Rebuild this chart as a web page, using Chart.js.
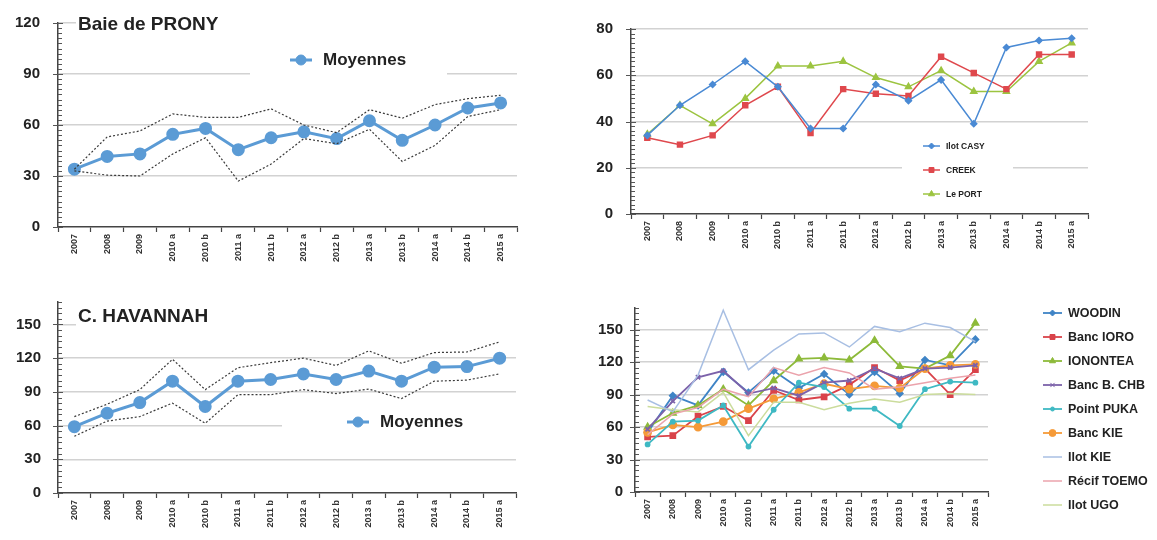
<!DOCTYPE html>
<html>
<head>
<meta charset="utf-8">
<script src="https://cdn.jsdelivr.net/npm/chart.js@4"></script>
<style>
  body { margin: 0; background: #fff; width: 1157px; height: 540px; position: relative; overflow: hidden; }
  canvas { position: absolute; }
</style>
</head>
<body>
<canvas id="prony" width="560" height="270" style="left:0;top:0"></canvas>
<canvas id="sites" width="577" height="270" style="left:580px;top:0"></canvas>
<canvas id="havannah" width="560" height="260" style="left:0;top:280px"></canvas>
<canvas id="stations" width="577" height="260" style="left:580px;top:280px"></canvas>
<script>
// Categories shared by all four panels
const years = ['2007', '2008', '2009', '2010 a', '2010 b', '2011 a', '2011 b', '2012 a', '2012 b', '2013 a', '2013 b', '2014 a', '2014 b', '2015 a'];

// Baie de PRONY
const pronyMean = [34, 41.5, 43, 54.5, 58, 45.5, 52.5, 56, 52, 62.5, 51, 60, 70, 73];
const pronyHigh = [34, 53, 56.5, 66.5, 64.5, 64.5, 69.5, 60, 55.5, 69, 64, 72, 75.5, 77.5];
const pronyLow = [33, 30.5, 30, 43, 52.5, 27, 37, 52, 49, 57.5, 38.5, 48, 65, 69];

// Prony stations
const casy = [34, 47, 56, 66, 55, 37, 37, 56, 49, 58, 39, 72, 75, 76];
const creek = [33, 30, 34, 47, 55, 35, 54, 52, 51, 68, 61, 54, 69, 69];
const port = [34.5, 47, 39, 50, 64, 64, 66, 59, 55, 62, 53, 53, 66, 74];

// C. HAVANNAH
const havMean = [59, 71, 80.5, 99.5, 77, 99.5, 101, 106, 101, 108.5, 99.5, 112, 112.5, 120];
const havHigh = [68, 79, 92, 119, 92, 111.5, 116, 120, 113.5, 126.5, 115.5, 125, 125.5, 134.5];
const havLow = [50.5, 64, 68, 80, 62, 87.5, 87.5, 92, 88.5, 92.5, 84, 99.5, 100.5, 106];

// Havannah stations
const woodin = [55, 89, 80, 111, 92, 112, 96, 109, 90, 111, 91, 122, 117, 141];
const ioro = [51, 52, 70, 79, 66, 94, 85, 88, 99, 115, 103, 114, 90, 113];
const ionontea = [60, 73, 80, 95, 80, 103, 123, 124, 122, 140, 116, 114, 126, 156];
const chb = [58, 84, 106, 112, 91, 96, 89, 101, 103, 114, 105, 114, 115, 117];
const puka = [44, 65, 66, 80, 42, 76, 101, 97, 77, 77, 61, 95, 102, 101];
const bancKie = [55, 62, 60, 65, 77, 86, 92, 100, 95, 98, 96, 114, 117, 118];
const ilotKie = [85, 74, 108, 168, 113, 131, 146, 147, 134, 153, 148, 156, 152, 139];
const toemo = [53, 72, 78, 95, 88, 115, 108, 115, 110, 95, 97, 101, 105, 108];
const ugo = [79, 76, 74, 92, 52, 83, 83, 76, 82, 86, 83, 90, 91, 90];

const FONT = "'Liberation Sans', Arial, sans-serif";

// Titles and legends drawn over the plot, with a white box hiding the grid behind them
const overlayPlugin = {
    id: 'overlay',
    afterDraw(chart, args, opts) {
        const ctx = chart.ctx;
        const y = chart.scales.y;
        ctx.save();

        // Excel style tick marks: major ones cross the axis, minor ones sit inside
        ctx.strokeStyle = '#555';
        ctx.lineWidth = 1;
        y.ticks.forEach(t => {
            const py = Math.round(y.getPixelForValue(t.value)) + 0.5;
            const major = t.value % opts.major === 0;
            ctx.beginPath();
            ctx.moveTo(y.right - (major ? 5 : 0), py);
            ctx.lineTo(y.right + (major ? 5 : 4), py);
            ctx.stroke();
        });

        ctx.fillStyle = '#fff';
        (opts.masks || []).forEach(m => ctx.fillRect(m[0], m[1], m[2], m[3]));
        ctx.textBaseline = 'middle';
        ctx.textAlign = 'left';
        if (opts.title) {
            ctx.fillStyle = '#222';
            ctx.font = 'bold ' + opts.title.size + 'px ' + FONT;
            ctx.fillText(opts.title.text, opts.title.x, opts.title.y);
        }
        if (opts.legend) {
            const lg = opts.legend;
            chart.data.datasets.forEach(ds => {
                if (!ds.label) return;
                const i = lg.order.indexOf(ds.label);
                const ly = lg.y + i * lg.row;
                ctx.strokeStyle = ds.borderColor;
                ctx.lineWidth = ds.borderWidth;
                ctx.setLineDash([]);
                ctx.beginPath();
                ctx.moveTo(lg.x, ly);
                ctx.lineTo(lg.x + lg.len, ly);
                ctx.stroke();
                if (ds.pointRadius > 0) {
                    ctx.fillStyle = ds.borderColor;
                    ctx.lineWidth = 1;
                    Chart.helpers.drawPoint(ctx, { pointStyle: ds.pointStyle || 'circle', radius: ds.pointRadius, rotation: 0, borderWidth: 1 }, lg.x + lg.len / 2, ly);
                }
                ctx.fillStyle = '#222';
                ctx.font = 'bold ' + lg.size + 'px ' + FONT;
                ctx.fillText(ds.label, lg.x + lg.len + lg.gap, ly + 0.5);
            });
        }
        ctx.restore();
    }
};

function series(label, data, color, style, radius, width) {
    return {
        label: label, data: data, borderColor: color, backgroundColor: color,
        pointBackgroundColor: color, pointBorderColor: color,
        pointStyle: style, pointRadius: radius, borderWidth: width, tension: 0
    };
}

function bound(data) {
    return { label: '', data: data, borderColor: '#3a3a3a', borderWidth: 1.2, borderDash: [2, 2], pointRadius: 0, tension: 0 };
}

function makeChart(id, datasets, s) {
    s.overlay.major = s.major;
    return new Chart(document.getElementById(id), {
        type: 'line',
        data: { labels: years, datasets: datasets },
        options: {
            responsive: false,
            animation: false,
            layout: { padding: { left: 0, right: s.right, top: s.top, bottom: 0 } },
            plugins: { legend: { display: false }, tooltip: { enabled: false }, overlay: s.overlay },
            scales: {
                x: {
                    offset: true,
                    afterFit: sc => { sc.height = s.xHeight; },
                    grid: { offset: true, drawOnChartArea: false, tickLength: 5, tickColor: '#444', tickWidth: 1.2 },
                    border: { color: '#444', width: 1.5 },
                    ticks: { minRotation: 90, maxRotation: 90, autoSkip: false, padding: 2, color: '#333', font: { family: FONT, size: 9, weight: 'bold' } }
                },
                y: {
                    min: 0,
                    max: s.max,
                    afterFit: sc => { sc.width = s.axis; },
                    afterBuildTicks: sc => {
                        const t = [];
                        for (let v = 0; v <= s.max; v += s.minor) t.push({ value: v });
                        sc.ticks = t;
                    },
                    grid: {
                        color: c => (c.tick && c.tick.value > 0 && c.tick.value % s.major === 0) ? '#d2d2d2' : 'rgba(0,0,0,0)',
                        lineWidth: 1.5,
                        tickLength: 4,
                        tickColor: 'rgba(0,0,0,0)'
                    },
                    border: { color: '#444', width: 1.5 },
                    ticks: {
                        autoSkip: false,
                        padding: s.labelPad,
                        color: '#222',
                        font: { family: FONT, size: 15, weight: 'bold' },
                        callback: v => (v % s.major === 0 ? String(v) : '')
                    }
                }
            }
        },
        plugins: [overlayPlugin]
    });
}

// Baie de PRONY
makeChart('prony', [
    bound(pronyHigh),
    bound(pronyLow),
    series('Moyennes', pronyMean, '#5b9bd5', 'circle', 5, 3)
], {
    axis: 58, right: 43, top: 23, xHeight: 43, max: 120, minor: 3, major: 30, labelPad: 14,
    overlay: {
        masks: [[76, 12, 441, 22], [250, 45, 197, 40]],
        title: { text: 'Baie de PRONY', x: 78, y: 25, size: 19 },
        legend: { x: 290, y: 60, row: 0, len: 22, gap: 11, size: 17, order: ['Moyennes'] }
    }
});

// Prony stations
makeChart('sites', [
    series('Ilot CASY', casy, '#4a8ad4', 'rectRot', 3, 1.5),
    series('CREEK', creek, '#df484d', 'rect', 3.5, 1.5),
    series('Le PORT', port, '#9cc440', 'triangle', 3.5, 1.5)
], {
    axis: 51, right: 69, top: 29, xHeight: 56, max: 80, minor: 2, major: 20, labelPad: 14,
    overlay: {
        masks: [[322, 132, 111, 73]],
        legend: { x: 343, y: 146, row: 24, len: 17, gap: 6, size: 8.5, order: ['Ilot CASY', 'CREEK', 'Le PORT'] }
    }
});

// C. HAVANNAH
makeChart('havannah', [
    bound(havHigh),
    bound(havLow),
    series('Moyennes', havMean, '#5b9bd5', 'circle', 5, 3)
], {
    axis: 58, right: 44, top: 13, xHeight: 47, max: 170, minor: 5, major: 30, labelPad: 13,
    overlay: {
        masks: [[76, 26, 440, 21], [282, 128, 234, 30]],
        title: { text: 'C. HAVANNAH', x: 78, y: 37, size: 19 },
        legend: { x: 347, y: 142, row: 0, len: 22, gap: 11, size: 17, order: ['Moyennes'] }
    }
});

// Havannah stations
const stationOrder = ['WOODIN', 'Banc IORO', 'IONONTEA', 'Banc B. CHB', 'Point PUKA', 'Banc KIE', 'Ilot KIE', 'Récif TOEMO', 'Ilot UGO'];
makeChart('stations', [
    series('Ilot KIE', ilotKie, '#a8bfe3', 'circle', 0, 1.5),
    series('Récif TOEMO', toemo, '#eba3ac', 'circle', 0, 1.5),
    series('Ilot UGO', ugo, '#cbdc9c', 'circle', 0, 1.5),
    series('Point PUKA', puka, '#3fb9c3', 'circle', 2, 1.8),
    series('Banc B. CHB', chb, '#7c62aa', 'crossRot', 3, 1.8),
    series('Banc KIE', bancKie, '#f59a38', 'circle', 3.5, 1.8),
    series('IONONTEA', ionontea, '#8dba3a', 'triangle', 3.5, 1.8),
    series('Banc IORO', ioro, '#d9434a', 'rect', 3.5, 1.8),
    series('WOODIN', woodin, '#3f84c6', 'rectRot', 3, 1.8)
], {
    axis: 55, right: 169, top: 28, xHeight: 48, max: 170, minor: 5, major: 30, labelPad: 8,
    overlay: {
        legend: { x: 463, y: 33, row: 24, len: 19, gap: 6, size: 12.5, order: stationOrder }
    }
});
</script>
</body>
</html>
